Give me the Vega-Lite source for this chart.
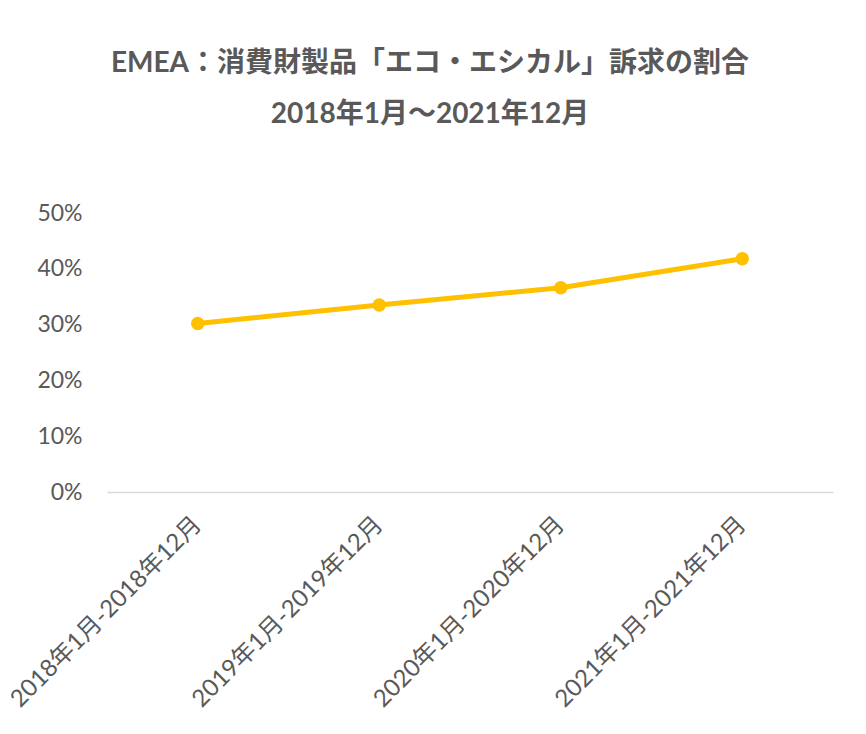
{
  "$schema": "https://vega.github.io/schema/vega-lite/v6.json",
  "width": 726,
  "height": 279,
  "autosize": {"type": "none"},
  "padding": {"left": 107, "top": 213, "right": 33, "bottom": 242},
  "background": "white",
  "config": {"view": {"stroke": null}, "font": "Lato, Noto Sans CJK JP"},
  "title": {
    "text": ["EMEA：消費財製品「エコ・エシカル」訴求の割合", "2018年1月～2021年12月"],
    "fontSize": 28,
    "fontWeight": "bold",
    "color": "#595959",
    "font": "Lato, Noto Sans CJK JP",
    "lineHeight": 51,
    "anchor": "middle",
    "dx": -40,
    "offset": 73
  },
  "data": {
    "values": [
      {"period": "2018年1月-2018年12月", "share": 0.302},
      {"period": "2019年1月-2019年12月", "share": 0.335},
      {"period": "2020年1月-2020年12月", "share": 0.366},
      {"period": "2021年1月-2021年12月", "share": 0.418}
    ]
  },
  "mark": {"type": "line", "color": "#FFC000", "strokeWidth": 5, "point": {"filled": true, "size": 180, "color": "#FFC000", "opacity": 1}},
  "encoding": {
    "x": {
      "field": "period",
      "type": "nominal",
      "sort": null,
      "title": null,
      "scale": {"paddingInner": 0, "paddingOuter": 0},
      "axis": {
        "labelAngle": -45,
        "labelFontSize": 24,
        "labelColor": "#595959",
        "labelFont": "Lato, Noto Sans CJK JP",
        "ticks": false,
        "domainColor": "#d9d9d9",
        "domainWidth": 1.5,
        "labelPadding": 20,
        "labelOffset": -9,
        "labelLimit": 400
      }
    },
    "y": {
      "field": "share",
      "type": "quantitative",
      "title": null,
      "scale": {"domain": [0, 0.5]},
      "axis": {
        "format": ".0%",
        "values": [0, 0.1, 0.2, 0.3, 0.4, 0.5],
        "grid": false,
        "domain": false,
        "ticks": false,
        "labelFontSize": 23,
        "labelColor": "#595959",
        "labelFont": "Lato, Noto Sans CJK JP",
        "labelPadding": 25
      }
    }
  }
}
